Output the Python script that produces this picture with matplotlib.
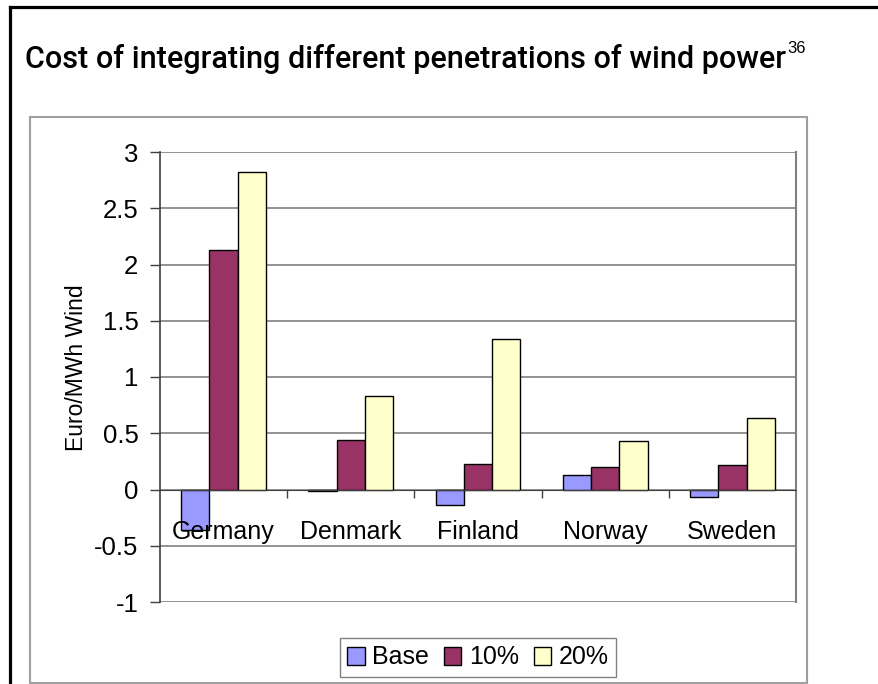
import numpy as np
import matplotlib
matplotlib.use("Agg")
import matplotlib.pyplot as plt
from matplotlib.patches import Rectangle
from matplotlib.lines import Line2D

# Integration cost by country, Euro/MWh wind
countries = ["Germany", "Denmark", "Finland", "Norway", "Sweden"]
base = [-0.36, -0.01, -0.14, 0.13, -0.07]
pen_10 = [2.13, 0.44, 0.23, 0.20, 0.22]
pen_20 = [2.82, 0.83, 1.34, 0.43, 0.64]
series_names = ["Base", "10%", "20%"]
y_ticks = [-1, -0.5, 0, 0.5, 1, 1.5, 2, 2.5, 3]

colors = ["#9999FF", "#993366", "#FFFFCC"]

plt.rcParams["font.family"] = ["Liberation Sans", "DejaVu Sans"]

W, H = 879, 684
fig = plt.figure(figsize=(W / 100, H / 100), dpi=100)

# outer black frame (left and top edges) and grey chart area
fig.add_artist(Line2D([10 / W, 10 / W], [0, 1 - 7 / H], color="black",
                      lw=2.3, transform=fig.transFigure))
fig.add_artist(Line2D([10 / W, 1], [1 - 7 / H, 1 - 7 / H], color="black",
                      lw=2.3, transform=fig.transFigure))
fig.add_artist(Rectangle((30 / W, 1 - 683 / H), (807 - 30) / W, (683 - 117) / H,
                         transform=fig.transFigure, fill=False,
                         edgecolor="#a0a0a0", lw=1.5))

title = fig.text(25 / W, 1 - 68 / H,
                 "Cost of integrating different penetrations of wind power",
                 family="Roboto", weight="medium", fontsize=22, va="baseline")

ax = fig.add_axes([160 / W, 1 - 602 / H, (796 - 160) / W, (602 - 152) / H])
ax.annotate("36", xy=(1, 1), xycoords=title, xytext=(1, 2.5),
            textcoords="offset points", fontsize=12, va="top", ha="left",
            annotation_clip=False)

x = np.arange(len(countries))
w = 1 / 4.5
for i, (vals, name) in enumerate(zip([base, pen_10, pen_20], series_names)):
    ax.bar(x + (i - 1) * w, vals, width=w, color=colors[i], edgecolor="black",
           lw=1.0, label=name, zorder=1)

ax.set_xlim(-0.5, len(countries) - 0.5)
ax.set_ylim(-1, 3)
ax.set_yticks(y_ticks)
ax.set_yticklabels([f"{t:g}" for t in y_ticks])
ax.yaxis.grid(True, color="#808080", lw=1.2)
ax.tick_params(axis="y", direction="out", length=7, width=1, color="#404040",
               labelsize=18.5, pad=8.5)
ax.set_ylabel("Euro/MWh Wind", fontsize=16.5)
ax.yaxis.set_label_coords(-0.113, 0.52)

# x axis sits on zero, ticks between categories, names centred
ax.spines["bottom"].set_position(("data", 0))
ax.spines["bottom"].set_color("#404040")
ax.spines["left"].set_color("#404040")
ax.spines["left"].set_linewidth(1.2)
ax.spines["top"].set_visible(False)
ax.spines["right"].set_color("#808080")
ax.spines["right"].set_linewidth(1.5)
ax.set_xticks(x[:-1] + 0.5)
ax.set_xticklabels([])
ax.set_xticks(x, minor=True)
ax.set_xticklabels(countries, minor=True)
ax.tick_params(axis="x", which="major", direction="out", length=6, width=1,
               color="#404040")
ax.tick_params(axis="x", which="minor", length=0, labelsize=18, pad=22)

# gridlines behind the bars, country names drawn over them
ax.yaxis.set_zorder(0.5)
ax.xaxis.set_zorder(3)

leg = fig.legend(loc="center", bbox_to_anchor=(478 / W, 1 - 657.5 / H), ncol=3,
                 fontsize=18, frameon=True, fancybox=False, framealpha=1,
                 edgecolor="#808080", handlelength=0.7, handleheight=0.7,
                 handletextpad=0.3, columnspacing=0.6, borderpad=0.3,
                 borderaxespad=0)
leg.get_frame().set_linewidth(1.0)

fig.savefig("out.png", dpi=100)
